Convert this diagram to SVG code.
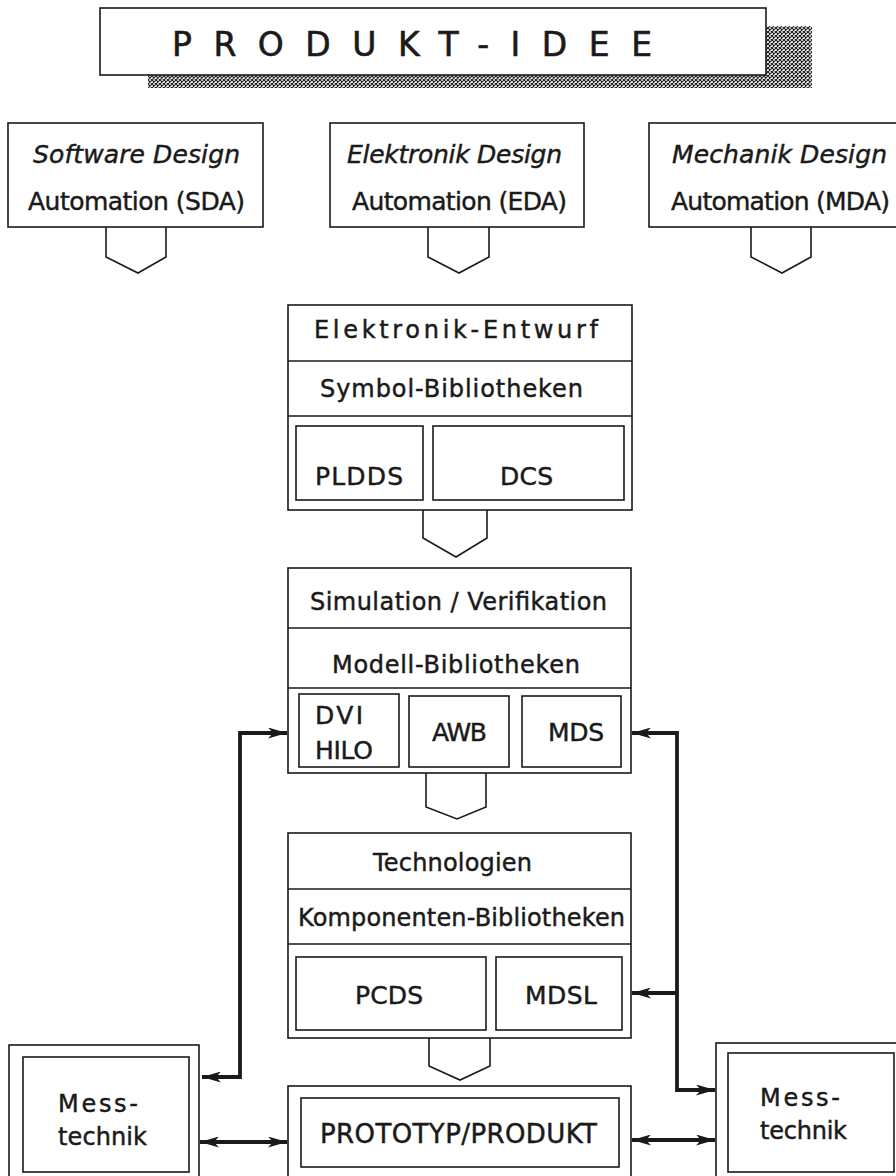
<svg xmlns="http://www.w3.org/2000/svg" width="896" height="1176" viewBox="0 0 896 1176">
<style>
.box{fill:#fff;stroke:#1a1a1a;stroke-width:1.6}
.ptr{fill:none;stroke:#1a1a1a;stroke-width:1.6;stroke-linejoin:miter}
.t{font-family:"DejaVu Sans","Liberation Sans",sans-serif;font-size:24px;fill:#1a1a1a;stroke:#1a1a1a;stroke-width:0.45}
.it{font-style:italic;font-size:25px}
.sb{font-size:25px}
.ttl{font-size:33px;stroke-width:0.6}
.pp{font-size:26px}
.con{fill:none;stroke:#1a1a1a;stroke-width:3.8}
</style>
<defs>
<pattern id="hatch" width="4" height="4" patternUnits="userSpaceOnUse">
<rect width="4" height="4" fill="#fff"/>
<path d="M0,0 L4,4 M4,0 L0,4" stroke="#222" stroke-width="1.2"/>
</pattern>
<marker id="ah" viewBox="0 0 19 11" refX="19" refY="5.5" markerWidth="19" markerHeight="11" markerUnits="userSpaceOnUse" orient="auto-start-reverse">
<path d="M0,0 L19,5.5 L0,11 L5,5.5 Z" fill="#1a1a1a"/>
</marker>
</defs>

<g id="title">
<rect x="148" y="26" width="664" height="62" fill="url(#hatch)"/>
<rect class="box" x="100" y="8" width="666" height="67" stroke-width="2"/>
<text class="t ttl" x="172" y="56" textLength="480">PRODUKT-IDEE</text>
</g>

<g id="sda">
<rect class="box" x="8" y="123" width="255" height="104"/>
<text class="t it" x="33" y="163" textLength="207">Software Design</text>
<text class="t sb" x="28" y="210" textLength="217">Automation (SDA)</text>
<polyline class="ptr" points="106,227 106,257 138,273 166,257 166,227"/>
</g>

<g id="eda">
<rect class="box" x="330" y="123" width="254" height="104"/>
<text class="t it" x="347" y="163" textLength="215">Elektronik Design</text>
<text class="t sb" x="352" y="210" textLength="215">Automation (EDA)</text>
<polyline class="ptr" points="428,227 428,257 459,273 489,257 489,227"/>
</g>

<g id="mda">
<rect class="box" x="649" y="123" width="260" height="104"/>
<text class="t it" x="672" y="163" textLength="215">Mechanik Design</text>
<text class="t sb" x="671" y="210" textLength="219">Automation (MDA)</text>
<polyline class="ptr" points="751,227 751,257 782,273 811,257 811,227"/>
</g>

<g id="entwurf">
<rect class="box" x="288" y="305" width="344" height="205"/>
<line class="ptr" x1="288" y1="361" x2="632" y2="361"/>
<line class="ptr" x1="288" y1="416" x2="632" y2="416"/>
<text class="t" x="314" y="338" textLength="284">Elektronik-Entwurf</text>
<text class="t" x="320" y="397" textLength="263">Symbol-Bibliotheken</text>
<rect class="box" x="296" y="426" width="127" height="74"/>
<rect class="box" x="433" y="426" width="191" height="74"/>
<text class="t sb" x="315" y="485" textLength="88">PLDDS</text>
<text class="t sb" x="500" y="485" textLength="53">DCS</text>
<polyline class="ptr" points="423,510 423,538 456,557 487,538 487,510"/>
</g>

<g id="simulation">
<rect class="box" x="288" y="568" width="343" height="205"/>
<line class="ptr" x1="288" y1="628" x2="631" y2="628"/>
<line class="ptr" x1="288" y1="688" x2="631" y2="688"/>
<text class="t" x="310" y="610" textLength="297">Simulation / Verifikation</text>
<text class="t" x="332" y="673" textLength="248">Modell-Bibliotheken</text>
<rect class="box" x="299" y="694" width="100" height="73"/>
<rect class="box" x="409" y="696" width="100" height="71"/>
<rect class="box" x="522" y="696" width="99" height="71"/>
<text class="t sb" x="315" y="724" textLength="48">DVI</text>
<text class="t sb" x="315" y="759" textLength="58">HILO</text>
<text class="t sb" x="432" y="741" textLength="55">AWB</text>
<text class="t sb" x="548" y="741" textLength="56">MDS</text>
<polyline class="ptr" points="426,773 426,807 457,819 486,807 486,773"/>
</g>

<g id="technologien">
<rect class="box" x="288" y="833" width="343" height="205"/>
<line class="ptr" x1="288" y1="889" x2="631" y2="889"/>
<line class="ptr" x1="288" y1="944" x2="631" y2="944"/>
<text class="t" x="373" y="871" textLength="159">Technologien</text>
<text class="t" x="298" y="926" textLength="327">Komponenten-Bibliotheken</text>
<rect class="box" x="296" y="957" width="190" height="73"/>
<rect class="box" x="496" y="957" width="126" height="73"/>
<text class="t sb" x="355" y="1004" textLength="68">PCDS</text>
<text class="t sb" x="525" y="1004" textLength="72">MDSL</text>
<polyline class="ptr" points="429,1038 429,1066 460,1080 490,1066 490,1038"/>
</g>

<g id="prototyp">
<rect class="box" x="288" y="1086" width="343" height="100"/>
<rect class="box" x="301" y="1098" width="318" height="69"/>
<text class="t pp" x="320" y="1143" textLength="277">PROTOTYP/PRODUKT</text>
</g>

<g id="mess-left">
<rect class="box" x="9" y="1045" width="190" height="140"/>
<rect class="box" x="23" y="1057" width="166" height="115"/>
<text class="t" x="58" y="1112" textLength="80">Mess-</text>
<text class="t" x="58" y="1145" textLength="89">technik</text>
</g>

<g id="mess-right">
<rect class="box" x="716" y="1043" width="200" height="140"/>
<rect class="box" x="728" y="1053" width="166" height="119"/>
<text class="t" x="760" y="1106" textLength="80">Mess-</text>
<text class="t" x="760" y="1139" textLength="87">technik</text>
</g>

<g id="connectors">
<path class="con" d="M202,1077 H240 V733 H287" marker-start="url(#ah)" marker-end="url(#ah)"/>
<path class="con" d="M715,1090 H677 V733 H632" marker-start="url(#ah)" marker-end="url(#ah)"/>
<path class="con" d="M677,993 H632" marker-end="url(#ah)"/>
<path class="con" d="M200,1142 H287" marker-start="url(#ah)" marker-end="url(#ah)"/>
<path class="con" d="M632,1140 H715" marker-start="url(#ah)" marker-end="url(#ah)"/>
</g>
</svg>
